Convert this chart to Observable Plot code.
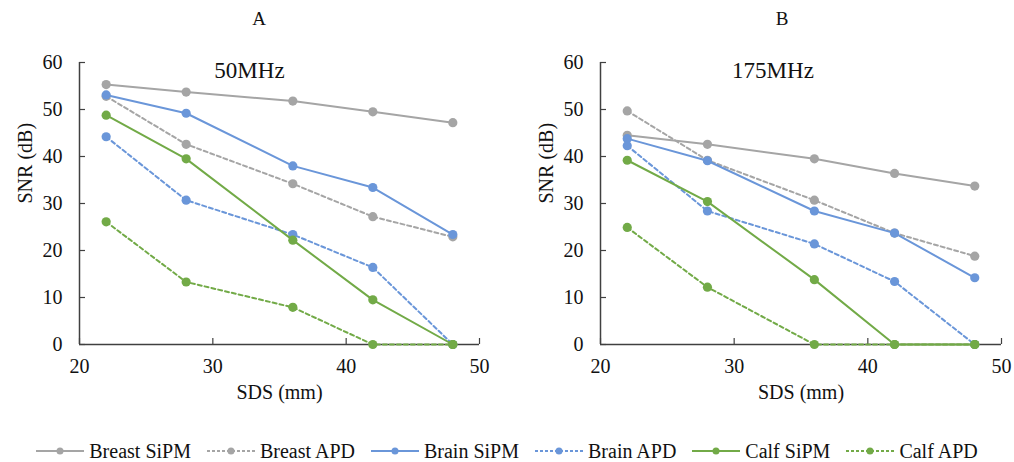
<!DOCTYPE html>
<html><head><meta charset="utf-8">
<script src="https://cdn.jsdelivr.net/npm/d3@7"></script>
<script src="https://cdn.jsdelivr.net/npm/@observablehq/plot@0.6"></script>
<style>
body{margin:0;background:#fff;font-family:'Liberation Serif',Tinos,'Times New Roman',Times,serif;color:#111;}
#wrap{position:relative;width:1014px;height:462px;overflow:hidden;}
.ptitle{position:absolute;top:7px;width:100px;text-align:center;font-size:19px;line-height:24px;}
#panelA,#panelB{position:absolute;top:30px;}
#panelA{left:0}#panelB{left:507px}
#legend{position:absolute;top:438px;left:0;width:1014px;height:26px;display:flex;justify-content:center;align-items:center;font-size:20px;white-space:nowrap;}
.item{display:flex;align-items:center;margin:0 8px;}
.item svg{margin-right:5px}
svg text{font-family:'Liberation Serif',Tinos,'Times New Roman',Times,serif !important;}
</style></head><body>
<div id="wrap">
<div class="ptitle" style="left:209px">A</div>
<div class="ptitle" style="left:732px">B</div>
<div id="panelA"></div><div id="panelB"></div>
<div id="legend"></div>
</div>
<script>
const sds = [22, 28, 36, 42, 48];
const seriesNames = ["Breast SiPM", "Breast APD", "Brain SiPM", "Brain APD", "Calf SiPM", "Calf APD"];
const seriesColors = ["#a5a5a5", "#a5a5a5", "#6a96d9", "#6a96d9", "#72aa47", "#72aa47"];
const seriesDashed = [false, true, false, true, false, true];
const yTicks = [0, 10, 20, 30, 40, 50, 60];
const xTicks = [20, 30, 40, 50];

// Panel A: 50 MHz
const breastSipm50 = [55.3, 53.7, 51.8, 49.5, 47.2];
const breastApd50  = [52.8, 42.6, 34.2, 27.2, 22.9];
const brainSipm50  = [53.1, 49.2, 38.0, 33.4, 23.4];
const brainApd50   = [44.2, 30.7, 23.4, 16.4, 0];
const calfSipm50   = [48.8, 39.5, 22.2, 9.5, 0];
const calfApd50    = [26.1, 13.3, 7.9, 0, 0];

// Panel B: 175 MHz
const breastSipm175 = [44.5, 42.6, 39.5, 36.4, 33.7];
const breastApd175  = [49.7, 39.2, 30.7, 23.7, 18.8];
const brainSipm175  = [43.8, 39.1, 28.4, 23.7, 14.2];
const brainApd175   = [42.3, 28.4, 21.4, 13.4, 0];
const calfSipm175   = [39.2, 30.4, 13.8, 0, 0];
const calfApd175    = [24.9, 12.2, 0, 0, 0];

const values50 = [breastSipm50, breastApd50, brainSipm50, brainApd50, calfSipm50, calfApd50];
const values175 = [breastSipm175, breastApd175, brainSipm175, brainApd175, calfSipm175, calfApd175];

const axisColor = "#404040";
const serif = "'Liberation Serif',Tinos,'Times New Roman',Times,serif";

function panel(values, title, marginLeft, marginRight, titleDx) {
  const rows = [];
  values.forEach((arr, i) => arr.forEach((v, j) => rows.push({series: seriesNames[i], sds: sds[j], snr: v})));
  const seriesMarks = [];
  seriesNames.forEach((name, i) => {
    const d = rows.filter(r => r.series === name);
    seriesMarks.push(Plot.line(d, {x: "sds", y: "snr", stroke: seriesColors[i], strokeWidth: 2,
      strokeDasharray: seriesDashed[i] ? "4,3" : null}));
    seriesMarks.push(Plot.dot(d, {x: "sds", y: "snr", fill: seriesColors[i], r: 4.6}));
  });
  return Plot.plot({
    width: 507, height: 390,
    marginLeft, marginRight, marginTop: 32, marginBottom: 76,
    style: {fontFamily: serif, fontSize: "20px", color: "#111", background: "transparent", overflow: "visible"},
    x: {domain: [20, 50]},
    y: {domain: [0, 60]},
    marks: [
      Plot.axisY({ticks: yTicks, tickSize: 6, insetLeft: 6, tickPadding: 17, label: null, stroke: axisColor, strokeWidth: 1.2, fill: "#111"}),
      Plot.axisX({ticks: xTicks, tickSize: 6, insetBottom: 6, tickPadding: 14, label: null, stroke: axisColor, strokeWidth: 1.2, fill: "#111"}),
      Plot.ruleX([20], {stroke: axisColor, strokeWidth: 1.5}),
      Plot.ruleY([0], {stroke: axisColor, strokeWidth: 1.5}),
      ...seriesMarks,
      Plot.text([title], {text: d => d, frameAnchor: "top", dx: titleDx, dy: 8, fontSize: 23, lineAnchor: "middle", fill: "#111"}),
      Plot.text(["SNR (dB)"], {text: d => d, frameAnchor: "left", rotate: -90, dx: -54, fontSize: 20, fill: "#111"}),
      Plot.text(["SDS (mm)"], {text: d => d, frameAnchor: "bottom", dy: 54, fontSize: 20, fill: "#111"})
    ]
  });
}

document.getElementById("panelA").appendChild(panel(values50, "50MHz", 79, 28, -30));
document.getElementById("panelB").appendChild(panel(values175, "175MHz", 93, 13, -28));

// Legend
const legend = document.getElementById("legend");
seriesNames.forEach((name, i) => {
  const item = document.createElement("div");
  item.className = "item";
  const ns = "http://www.w3.org/2000/svg";
  const svg = document.createElementNS(ns, "svg");
  svg.setAttribute("width", 48); svg.setAttribute("height", 12);
  const line = document.createElementNS(ns, "line");
  line.setAttribute("x1", 0); line.setAttribute("x2", 48); line.setAttribute("y1", 6); line.setAttribute("y2", 6);
  line.setAttribute("stroke", seriesColors[i]); line.setAttribute("stroke-width", 2);
  if (seriesDashed[i]) line.setAttribute("stroke-dasharray", "3,2");
  const c = document.createElementNS(ns, "circle");
  c.setAttribute("cx", 24); c.setAttribute("cy", 6); c.setAttribute("r", 3.5); c.setAttribute("fill", seriesColors[i]);
  svg.appendChild(line); svg.appendChild(c);
  const span = document.createElement("span");
  span.textContent = name;
  item.appendChild(svg); item.appendChild(span);
  legend.appendChild(item);
});
</script>
</body></html>
